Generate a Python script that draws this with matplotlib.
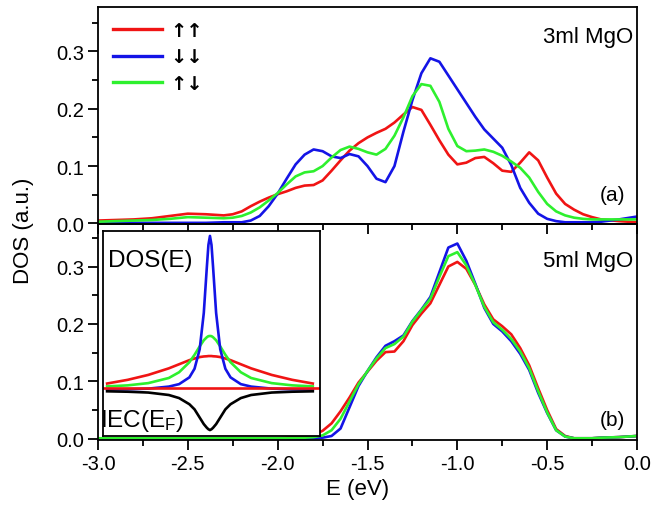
import numpy as np
import matplotlib
matplotlib.use("Agg")
import matplotlib.pyplot as plt
from matplotlib.lines import Line2D
from matplotlib.ticker import MultipleLocator

plt.rcParams['font.family'] = ['Liberation Sans', 'DejaVu Sans']
plt.rcParams['axes.unicode_minus'] = False
plt.rcParams['mathtext.default'] = 'regular'

# ---------------- data ----------------
energy = [-3.0, -2.9, -2.8, -2.7, -2.6, -2.5, -2.4, -2.3,
          -2.25, -2.2, -2.15, -2.1, -2.05, -2.0, -1.95, -1.9, -1.85, -1.8,
          -1.75, -1.7, -1.65, -1.6, -1.55, -1.5, -1.45, -1.4, -1.35, -1.3,
          -1.25, -1.2, -1.15, -1.1, -1.05, -1.0, -0.95, -0.9, -0.85, -0.8,
          -0.75, -0.7, -0.65, -0.6, -0.55, -0.5, -0.45, -0.4, -0.35, -0.3,
          -0.25, -0.2, -0.1, 0.0]

# panel (a): 3ml MgO
dos3_upup = [0.005, 0.006, 0.007, 0.009, 0.013, 0.017, 0.016, 0.014,
             0.016, 0.021, 0.030, 0.038, 0.045, 0.051, 0.056, 0.062, 0.066, 0.067,
             0.075, 0.092, 0.110, 0.127, 0.140, 0.150, 0.158, 0.165, 0.176, 0.190,
             0.203, 0.198, 0.172, 0.145, 0.120, 0.103, 0.106, 0.114, 0.116, 0.105,
             0.092, 0.090, 0.106, 0.124, 0.110, 0.080, 0.052, 0.034, 0.024, 0.016,
             0.011, 0.007, 0.004, 0.002]
dos3_dndn = [0.001, 0.001, 0.001, 0.001, 0.001, 0.001, 0.001, 0.002,
             0.002, 0.002, 0.005, 0.013, 0.030, 0.052, 0.078, 0.103, 0.120, 0.129,
             0.126, 0.117, 0.114, 0.121, 0.117, 0.100, 0.078, 0.072, 0.100, 0.160,
             0.215, 0.262, 0.288, 0.282, 0.258, 0.234, 0.210, 0.186, 0.164, 0.148,
             0.132, 0.102, 0.062, 0.036, 0.017, 0.008, 0.004, 0.002, 0.002, 0.002,
             0.002, 0.003, 0.007, 0.012]
dos3_updn = [0.003, 0.004, 0.005, 0.006, 0.008, 0.011, 0.010, 0.009,
             0.010, 0.013, 0.019, 0.028, 0.040, 0.053, 0.068, 0.082, 0.089, 0.091,
             0.100, 0.115, 0.128, 0.134, 0.130, 0.124, 0.120, 0.130, 0.153, 0.185,
             0.222, 0.243, 0.240, 0.212, 0.165, 0.135, 0.126, 0.127, 0.129, 0.125,
             0.118, 0.108, 0.097, 0.080, 0.055, 0.034, 0.021, 0.014, 0.010, 0.008,
             0.007, 0.007, 0.007, 0.007]

# panel (b): 5ml MgO
dos5_upup = [0.000, 0.000, 0.000, 0.000, 0.000, 0.000, 0.000, 0.000,
             0.000, 0.000, 0.000, 0.000, 0.001, 0.001, 0.002, 0.003, 0.004, 0.007,
             0.014, 0.027, 0.048, 0.072, 0.098, 0.117, 0.136, 0.151, 0.152, 0.170,
             0.198, 0.218, 0.236, 0.268, 0.300, 0.308, 0.296, 0.268, 0.234, 0.208,
             0.196, 0.182, 0.158, 0.128, 0.088, 0.050, 0.017, 0.005, 0.001, 0.001,
             0.001, 0.002, 0.003, 0.005]
dos5_dndn = [0.000, 0.000, 0.000, 0.000, 0.000, 0.000, 0.000, 0.000,
             0.000, 0.000, 0.000, 0.000, 0.000, 0.000, 0.000, 0.000, 0.000, 0.001,
             0.002, 0.005, 0.018, 0.055, 0.092, 0.118, 0.142, 0.162, 0.170, 0.180,
             0.205, 0.225, 0.247, 0.290, 0.333, 0.340, 0.310, 0.270, 0.228, 0.200,
             0.187, 0.170, 0.148, 0.120, 0.080, 0.045, 0.015, 0.004, 0.001, 0.001,
             0.001, 0.002, 0.003, 0.005]
dos5_updn = [0.001, 0.001, 0.001, 0.001, 0.001, 0.001, 0.001, 0.001,
             0.001, 0.001, 0.001, 0.001, 0.001, 0.001, 0.001, 0.002, 0.002, 0.003,
             0.006, 0.015, 0.035, 0.065, 0.095, 0.118, 0.140, 0.158, 0.165, 0.178,
             0.204, 0.224, 0.244, 0.282, 0.318, 0.325, 0.302, 0.268, 0.230, 0.203,
             0.190, 0.174, 0.152, 0.123, 0.083, 0.046, 0.015, 0.004, 0.001, 0.001,
             0.001, 0.002, 0.003, 0.005]

# inset (schematic, arbitrary units)
inset_x = [-1.0, -0.8, -0.6, -0.4, -0.3, -0.2, -0.15, -0.1, -0.06, -0.03, -0.015, 0.0,
           0.015, 0.03, 0.06, 0.1, 0.15, 0.2, 0.3, 0.4, 0.6, 0.8, 1.0]
inset_blue = [0.227, 0.228, 0.231, 0.241, 0.253, 0.286, 0.328, 0.423, 0.600, 0.826, 0.932, 0.976,
              0.932, 0.826, 0.600, 0.423, 0.328, 0.286, 0.253, 0.241, 0.231, 0.228, 0.227]
inset_green = [0.242, 0.247, 0.258, 0.283, 0.311, 0.360, 0.396, 0.437, 0.467, 0.482, 0.487, 0.488,
               0.487, 0.482, 0.467, 0.437, 0.396, 0.360, 0.311, 0.283, 0.258, 0.247, 0.242]
inset_red = [0.256, 0.274, 0.298, 0.330, 0.350, 0.370, 0.378, 0.385, 0.388, 0.389, 0.390, 0.390,
             0.390, 0.389, 0.388, 0.385, 0.378, 0.370, 0.350, 0.330, 0.298, 0.274, 0.256]
inset_black = [0.218, 0.216, 0.212, 0.200, 0.185, 0.155, 0.130, 0.090, 0.058, 0.040, 0.033, 0.029,
               0.033, 0.040, 0.058, 0.090, 0.130, 0.155, 0.185, 0.200, 0.212, 0.216, 0.218]
inset_flat = 0.234

labels = ['↑↑', '↓↓', '↑↓']
colors = ['#f01414', '#1414e6', '#2ef02e']

# ---------------- figure ----------------
fig = plt.figure(figsize=(6.52, 5.06), dpi=100)
L, W = 98 / 652, 539 / 652
ax1 = fig.add_axes([L, 1 - 225 / 506, W, 217 / 506])
ax2 = fig.add_axes([L, 1 - 441 / 506, W, 216 / 506])
ax2.patch.set_alpha(0)

lw = 1.9
for ax, series, ylim in [(ax1, [dos3_upup, dos3_dndn, dos3_updn], (-0.001, 0.3775)),
                         (ax2, [dos5_upup, dos5_dndn, dos5_updn], (-0.002, 0.374))]:
    for s, c in zip(series, colors):
        ax.plot(energy, s, color=c, lw=lw, solid_joinstyle='round')
    ax.set_xlim(-3.0, 0.0)
    ax.set_ylim(*ylim)
    ax.xaxis.set_major_locator(MultipleLocator(0.5))
    ax.xaxis.set_minor_locator(MultipleLocator(0.25))
    ax.yaxis.set_major_locator(MultipleLocator(0.1))
    ax.yaxis.set_minor_locator(MultipleLocator(0.05))
    ax.tick_params(which='major', direction='out', length=7, width=1.3, labelsize=14.5, pad=3)
    ax.tick_params(which='minor', direction='out', length=4, width=1.3)
    ax.tick_params(top=False, right=False)
    for sp in ax.spines.values():
        sp.set_linewidth(1.3)
    ax.set_yticks([0.0, 0.1, 0.2, 0.3])
    ax.set_yticklabels(['0.0', '0.1', '0.2', '0.3'])

ax1.tick_params(labelbottom=False)
ax2.set_xticks([-3.0, -2.5, -2.0, -1.5, -1.0, -0.5, 0.0])
ax2.set_xticklabels(['-3.0', '-2.5', '-2.0', '-1.5', '-1.0', '-0.5', '0.0'])

# legend
handles = [Line2D([], [], color=c, lw=2.4) for c in colors]
leg = ax1.legend(handles, labels, loc='upper left', bbox_to_anchor=(0.028, 0.935),
                 frameon=False, borderpad=0, borderaxespad=0, handlelength=2.5,
                 handletextpad=0.45, labelspacing=0.38,
                 prop={'family': 'DejaVu Sans', 'weight': 'bold', 'size': 14})

ax1.text(0.993, 0.864, '3ml MgO', transform=ax1.transAxes, ha='right', va='center', fontsize=16)
ax1.text(0.978, 0.134, '(a)', transform=ax1.transAxes, ha='right', va='center', fontsize=15)
ax2.text(0.993, 0.829, '5ml MgO', transform=ax2.transAxes, ha='right', va='center', fontsize=16)
ax2.text(0.978, 0.093, '(b)', transform=ax2.transAxes, ha='right', va='center', fontsize=15)

fig.text(23 / 652, 1 - 231 / 506, 'DOS (a.u.)', rotation=90, ha='center', va='center', fontsize=16)
fig.text(358 / 652, 1 - 490 / 506, 'E (eV)', ha='center', va='center', fontsize=16)

# inset
axi = fig.add_axes([103 / 652, 1 - 437 / 506, 217 / 652, 205 / 506])
axi.plot(inset_x, inset_red, color=colors[0], lw=lw)
axi.plot(inset_x, inset_green, color=colors[2], lw=lw)
axi.plot(inset_x, inset_blue, color=colors[1], lw=lw)
axi.plot(inset_x, inset_black, color='black', lw=lw)
axi.axhline(inset_flat, color=colors[0], lw=lw)
axi.set_xlim(-1.04, 1.07)
axi.set_ylim(0, 1)
axi.set_xticks([])
axi.set_yticks([])
for sp in axi.spines.values():
    sp.set_linewidth(1.3)
axi.text(0.023, 0.858, 'DOS(E)', transform=axi.transAxes, ha='left', va='center', fontsize=17.5)
axi.text(-0.012, 0.08, r'IEC(E$_\mathregular{F}$)', transform=axi.transAxes,
         ha='left', va='center', fontsize=17.5)

fig.savefig('out.png', dpi=100)
